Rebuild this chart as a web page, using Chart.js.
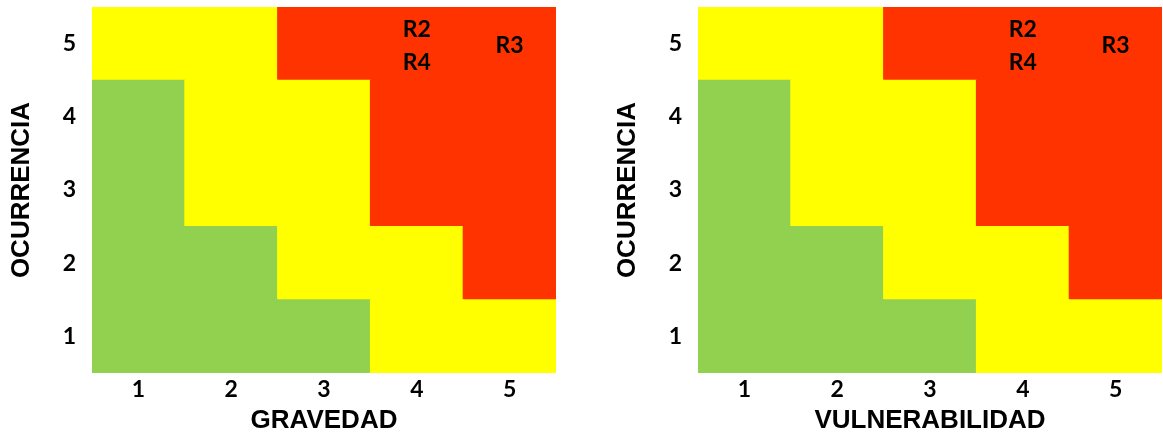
<!DOCTYPE html>
<html><head><meta charset="utf-8">
<script src="https://cdn.jsdelivr.net/npm/chart.js@4/dist/chart.umd.min.js"></script>
<style>
html,body{margin:0;padding:0;background:#fff;}
#wrap{position:relative;width:1163px;height:436px;overflow:hidden;}
canvas{position:absolute;top:0;}
</style></head><body>
<div id="wrap">
<canvas id="c1" width="557" height="436" style="left:0px"></canvas>
<canvas id="c2" width="557" height="436" style="left:606px"></canvas>
</div>
<script>
// ---- data ----
const columnTicks = ['1','2','3','4','5'];
const rowTicks = [1, 2, 3, 4, 5];
// risk level per cell, columns 1..5: B = bajo (verde), M = medio (amarillo), A = alto (rojo)
const levelRow1 = ['B','B','B','M','M'];
const levelRow2 = ['B','B','M','M','A'];
const levelRow3 = ['B','M','M','A','A'];
const levelRow4 = ['B','M','M','A','A'];
const levelRow5 = ['M','M','A','A','A'];
const levelColors = { B: '#92D050', M: '#FFFF00', A: '#FF3300' };
// risks placed in the left matrix (gravedad x ocurrencia)
const riskIds = ['R2', 'R4', 'R3'];
const riskGravedad = [4, 4, 5];
const riskOcurrencia = [5, 5, 5];
// risks placed in the right matrix (vulnerabilidad x ocurrencia)
const riskIds2 = ['R2', 'R4', 'R3'];
const riskVulnerabilidad = [4, 4, 5];
const riskOcurrencia2 = [5, 5, 5];

const levelRows = [levelRow1, levelRow2, levelRow3, levelRow4, levelRow5];

const riskLabels = {
  id: 'riskLabels',
  afterDatasetsDraw(chart, args, opts) {
    const { ctx } = chart;
    const x = chart.scales.x, y = chart.scales.y;
    const groups = {};
    opts.ids.forEach((id, i) => {
      const k = opts.xs[i] + '_' + opts.ys[i];
      (groups[k] = groups[k] || []).push(i);
    });
    ctx.save();
    ctx.font = 'bold 23px Lato';
    ctx.fillStyle = '#000';
    ctx.textAlign = 'center';
    ctx.textBaseline = 'middle';
    Object.values(groups).forEach(g => {
      g.forEach((i, j) => {
        const px = x.getPixelForValue(columnTicks.indexOf(String(opts.xs[i])));
        const py = y.getPixelForValue(opts.ys[i]) + (j - (g.length - 1) / 2) * 33 + 2;
        ctx.fillText(opts.ids[i], px, py);
      });
    });
    ctx.restore();
  }
};

function makeChart(id, xTitle, ids, xs, ys) {
  const tickFont = { family: 'Lato', weight: 'bold', size: 23 };
  const titleFont = { family: 'Liberation Sans', weight: 'bold', size: 26 };
  return new Chart(document.getElementById(id), {
    type: 'bar',
    data: {
      labels: columnTicks,
      datasets: levelRows.map((lv, r) => ({
        data: lv.map(() => [rowTicks[r] - 0.5, rowTicks[r] + 0.5]),
        backgroundColor: lv.map(l => levelColors[l]),
        borderWidth: 0,
        barPercentage: 1,
        categoryPercentage: 1,
        grouped: false,
        inflateAmount: 0.5
      }))
    },
    options: {
      responsive: false,
      animation: false,
      layout: { padding: { top: 7, left: 0, right: 1, bottom: 0 } },
      plugins: {
        legend: { display: false },
        tooltip: { enabled: false },
        riskLabels: { ids: ids, xs: xs, ys: ys }
      },
      scales: {
        x: {
          type: 'category',
          offset: true,
          grid: { display: false, drawTicks: false },
          border: { display: false },
          ticks: { color: '#000', font: tickFont, padding: 3 },
          title: { display: true, text: xTitle, color: '#000', font: titleFont, padding: { top: 0, bottom: 0 } },
          afterFit(s) { s.height = 63; s.paddingLeft = 0; s.paddingRight = 0; }
        },
        y: {
          type: 'linear',
          min: 0.5,
          max: 5.5,
          afterBuildTicks(s) { s.ticks = rowTicks.map(v => ({ value: v })); },
          grid: { display: false, drawTicks: false },
          border: { display: false },
          ticks: { color: '#000', font: tickFont, padding: 16 },
          title: { display: true, text: 'OCURRENCIA', color: '#000', font: titleFont, padding: { top: 6, bottom: 0 } },
          afterFit(s) { s.width = 92; s.paddingTop = 0; s.paddingBottom = 0; }
        }
      }
    },
    plugins: [riskLabels]
  });
}

makeChart('c1', 'GRAVEDAD', riskIds, riskGravedad, riskOcurrencia);
makeChart('c2', 'VULNERABILIDAD', riskIds2, riskVulnerabilidad, riskOcurrencia2);
</script>
</body></html>
